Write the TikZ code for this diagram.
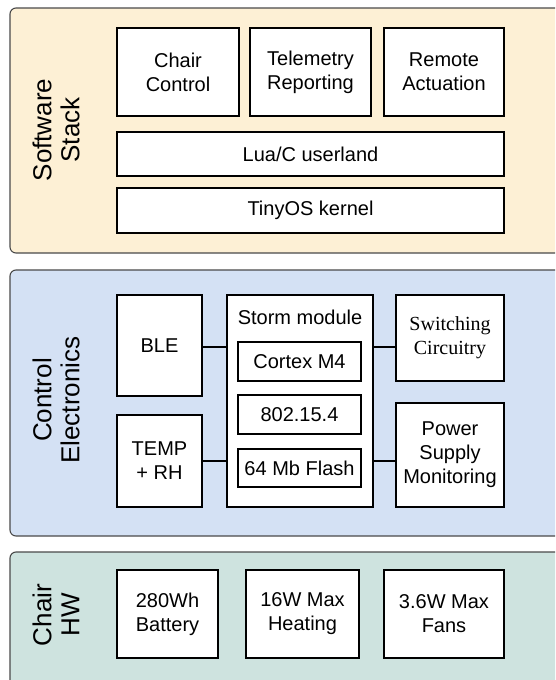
\documentclass[tikz,border=0pt]{standalone}
\usepackage{fontspec}
\setmainfont{Liberation Sans}
\newfontfamily\serifface{Liberation Serif}
\definecolor{swfill}{HTML}{FDF0D5}
\definecolor{cefill}{HTML}{D4E1F4}
\definecolor{hwfill}{HTML}{CEE3DF}
\definecolor{panelline}{HTML}{4A4A4A}
\begin{document}
\begin{tikzpicture}[x=1pt,y=-1pt,
  panel/.style={draw=panelline,line width=1.1pt,rounded corners=6pt},
  box/.style={draw=black,line width=1.4pt,fill=white,align=center,inner sep=0pt,
     font=\fontsize{20}{24}\selectfont},
  sidelabel/.style={rotate=90,align=center,font=\fontsize{26}{28}\selectfont},
  link/.style={draw=black,line width=2pt}]
\useasboundingbox (0,0) rectangle (555,680);
\clip (0,0) rectangle (555,680);
\fill[white] (0,0) rectangle (555,680);
% panels
\draw[panel,fill=swfill] (10,8) rectangle (575,253);
\draw[panel,fill=cefill] (10,270) rectangle (575,536);
\draw[panel,fill=hwfill] (10,552) rectangle (575,700);
% software stack
\node[sidelabel] (swl) at (56,130) {Software\\Stack};
\node[box,minimum width=122pt,minimum height=88pt] (chairc) at (178,72) {Chair\\Control};
\node[box,minimum width=121pt,minimum height=88pt] (tele) at (310.5,72) {Telemetry\\Reporting};
\node[box,minimum width=120pt,minimum height=88pt] (remote) at (444,72) {Remote\\Actuation};
\node[box,minimum width=387pt,minimum height=44pt] (lua) at (310.5,154) {Lua/C userland};
\node[box,minimum width=387pt,minimum height=45pt] (tiny) at (310.5,210.5) {TinyOS kernel};
% control electronics
\node[sidelabel] (cel) at (56,400) {Control\\Electronics};
\node[box,minimum width=85pt,minimum height=101pt] (ble) at (159.5,345.5) {BLE};
\node[box,minimum width=85pt,minimum height=92pt] (temp) at (159.5,461) {TEMP\\+ RH};
\node[box,minimum width=146pt,minimum height=212pt] (storm) at (300,401) {};
\node[font=\fontsize{20}{24}\selectfont,inner sep=0pt] (stl) at (300,317) {Storm module};
\node[box,minimum width=123pt,minimum height=39pt] (cortex) at (299.5,361.5) {Cortex M4};
\node[box,minimum width=123pt,minimum height=39pt] (radio) at (299.5,414.5) {802.15.4};
\node[box,minimum width=123pt,minimum height=38pt] (flash) at (299.5,468) {64 Mb Flash};
\node[box,minimum width=108pt,minimum height=86pt,font=\serifface\fontsize{20}{24}\selectfont] (switch) at (450,338) {Switching\\Circuitry};
\node[box,minimum width=108pt,minimum height=104pt] (power) at (450,455) {Power\\Supply\\Monitoring};
\coordinate (lineA) at (0,347);
\coordinate (lineB) at (0,461);
\draw[link] (ble.east |- lineA) -- (storm.west |- lineA);
\draw[link] (storm.east |- lineA) -- (switch.west |- lineA);
\draw[link] (temp.east |- lineB) -- (storm.west |- lineB);
\draw[link] (storm.east |- lineB) -- (power.west |- lineB);
% chair hw
\node[sidelabel] (hwl) at (56,615) {Chair\\HW};
\node[box,minimum width=101pt,minimum height=88pt] (batt) at (167.5,614) {280Wh\\Battery};
\node[box,minimum width=113pt,minimum height=88pt] (heat) at (302.5,614) {16W Max\\Heating};
\node[box,minimum width=120pt,minimum height=88pt] (fans) at (444,614) {3.6W Max\\Fans};
\end{tikzpicture}
\end{document}
